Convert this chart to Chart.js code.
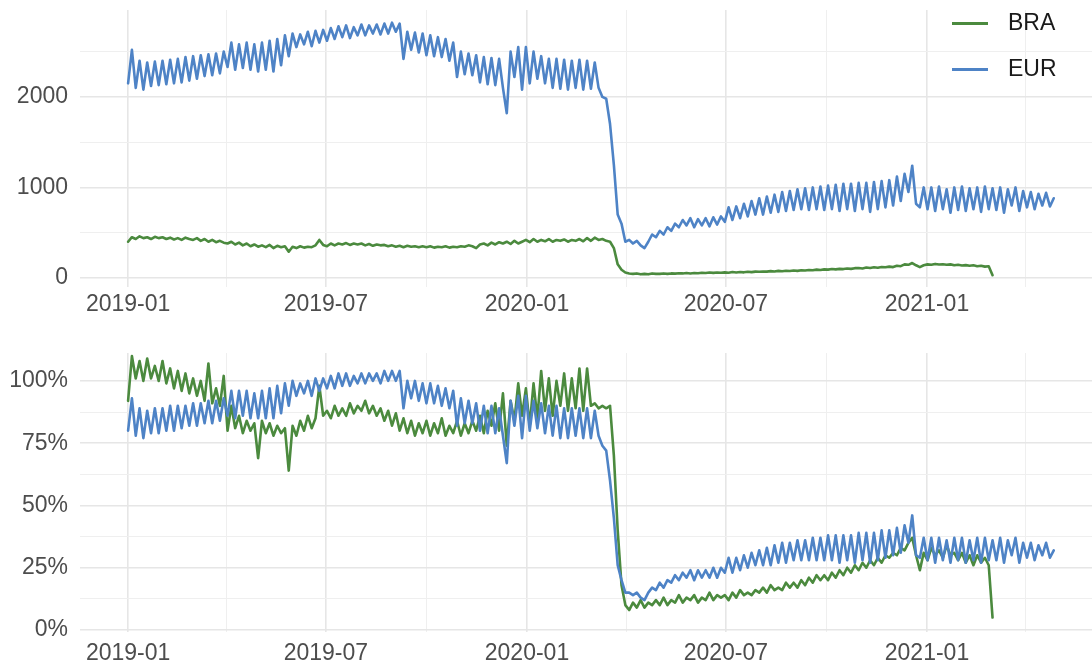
<!DOCTYPE html>
<html>
<head>
<meta charset="utf-8">
<script src="https://cdn.jsdelivr.net/npm/chart.js@4.4.1/dist/chart.umd.min.js"></script>
<style>
  body { margin: 0; background: #fff; width: 1092px; height: 668px; overflow: hidden; position: relative; font-family: "Liberation Sans", Arial, sans-serif; }
  canvas { position: absolute; left: 0; }
  #topChart { top: 0; }
  #bottomChart { top: 340px; }
  .legend { position: absolute; left: 952px; font-size: 23px; color: #1a1a1a; }
  .legend .row { position: absolute; left: 0; height: 30px; width: 140px; }
  .legend .swatch { position: absolute; left: 0; top: 14px; width: 36px; height: 2.5px; }
  .legend .lbl { position: absolute; left: 56px; top: 1px; }
</style>
</head>
<body>
<canvas id="topChart" width="1092" height="320"></canvas>
<canvas id="bottomChart" width="1092" height="328"></canvas>
<div class="legend" id="legend"></div>

<script>
// one point every 3.5 days from 2019-01-01 (alternating weekly high / low)
var DAY_STEP = 3.5;

// x-axis breaks, in days since 2019-01-01
var majorDays = [0, 181, 365, 547, 731];
var majorLabels = ['2019-01', '2019-07', '2020-01', '2020-07', '2021-01'];
var minorDays = [90, 273, 456, 639, 821];

var seriesNames = ['EUR', 'BRA'];
var seriesColors = ['#4e83c6', '#4b8a3e'];

// top panel: absolute values
var eurAbs = [
  2150, 2520, 2100, 2400, 2080, 2380, 2120, 2390, 2130,   // 2019-01
  2400, 2140, 2410, 2150, 2420, 2160, 2440, 2180,
  2450, 2200, 2460, 2230, 2470, 2240, 2480, 2260, 2500,
  2330, 2600, 2300, 2580, 2320, 2600, 2300, 2580, 2280,
  2600, 2300, 2620, 2280, 2640, 2350, 2680, 2450,
  2700, 2550, 2690, 2580, 2720, 2560, 2730, 2600, 2740,
  2620, 2760, 2640, 2780, 2660, 2790, 2650, 2770, 2680,   // 2019-07
  2800, 2680, 2790, 2700, 2800, 2690, 2810, 2700,
  2820, 2720, 2810, 2420, 2720, 2520, 2710, 2490, 2700,
  2460, 2680, 2450, 2660, 2440, 2640, 2400, 2600, 2220,
  2500, 2250, 2480, 2240, 2460, 2160, 2440, 2140,
  2430, 2130, 2420, 2100, 1820, 2500, 2220, 2550, 2080,
  2550, 2150, 2500, 2200, 2450, 2150, 2420, 2100, 2420,   // 2020-01
  2090, 2410, 2080, 2400, 2100, 2410, 2080, 2400,
  2090, 2380, 2100, 2000, 1980, 1700, 1250, 700, 600,
  400, 420, 380, 410, 360, 330, 400, 480, 450,
  520, 480, 560, 520, 600, 560, 640, 580, 660,
  560, 650, 580, 660, 570, 670, 590, 680,
  620, 780, 640, 790, 660, 820, 680, 850, 700,            // 2020-07
  880, 700, 900, 720, 920, 730, 950, 740, 960,
  750, 980, 760, 990, 750, 1000, 760, 1010,
  750, 1020, 760, 1030, 740, 1040, 760, 1040, 740,
  1050, 760, 1050, 730, 1060, 760, 1070, 780,
  1080, 800, 1120, 850, 1150, 950, 1240, 820, 780,
  1000, 760, 1000, 740, 1010, 760, 980, 720, 1000,        // 2021-01
  750, 1010, 740, 990, 760, 1000, 730, 1010,
  760, 990, 750, 1000, 720, 980, 800, 1000, 740,
  960, 780, 950, 760, 930, 800, 940, 790, 880
];

var braAbs = [
  400, 450, 430, 460, 440, 450, 430, 455, 440,            // 2019-01
  450, 430, 445, 425, 440, 420, 445, 430,
  420, 440, 410, 430, 400, 420, 395, 410, 390,
  380, 400, 370, 390, 360, 380, 350, 370, 345,
  360, 340, 365, 330, 355, 340, 350, 290,
  345, 330, 350, 335, 345, 340, 360, 420, 365,
  350, 380, 360, 380, 370, 385, 365, 380, 370,            // 2019-07
  380, 360, 375, 355, 370, 360, 365, 350,
  360, 345, 355, 340, 355, 345, 350, 340, 350,
  340, 350, 335, 345, 340, 350, 335, 345, 340,
  350, 345, 360, 350, 330, 370, 380, 360,
  390, 370, 395, 380, 400, 375, 410, 380, 400,
  420, 395, 430, 400, 420, 405, 430, 400, 420,            // 2020-01
  410, 425, 400, 420, 410, 430, 405, 440,
  410, 445, 420, 430, 410, 400, 330, 150, 90,
  60, 50, 45, 50, 40, 45, 40, 50, 45,
  45, 50, 45, 50, 48, 52, 50, 55, 50,
  55, 52, 58, 55, 60, 56, 60, 58,
  62, 58, 65, 60, 66, 62, 68, 64, 70,                     // 2020-07
  68, 72, 70, 75, 72, 78, 74, 80, 76,
  82, 78, 85, 82, 88, 85, 92, 88,
  95, 92, 98, 95, 100, 98, 105, 100, 108,
  110, 105, 115, 110, 118, 112, 120, 118,
  125, 120, 135, 130, 150, 145, 165, 140, 120,
  140, 150, 145, 155, 148, 152, 145, 150, 140,            // 2021-01
  145, 138, 142, 135, 140, 130, 135, 125,
  130, 30
];

// bottom panel: percent of 2019 level
var eurPct = [
  80, 93, 78, 89, 77, 88, 79, 89, 79,                     // 2019-01
  89, 80, 90, 80, 90, 81, 90, 82,
  91, 82, 91, 83, 92, 83, 92, 84, 93,
  86, 96, 85, 96, 86, 96, 85, 95, 85,
  96, 85, 97, 85, 98, 87, 99, 90,
  100, 94, 99, 95, 100, 94, 101, 96, 101,
  97, 102, 97, 103, 98, 103, 98, 102, 99,                 // 2019-07
  103, 99, 103, 100, 103, 99, 104, 100,
  104, 100, 104, 89, 100, 93, 100, 92, 99,
  91, 99, 91, 98, 90, 97, 89, 96, 82,
  93, 83, 92, 83, 91, 80, 90, 79,
  90, 79, 89, 78, 67, 92, 82, 94, 77,
  94, 80, 92, 81, 91, 79, 90, 78, 90,                     // 2020-01
  77, 89, 77, 89, 78, 89, 77, 89,
  77, 88, 78, 74, 72, 60, 45, 26, 20,
  15, 15, 14, 15, 13, 12, 15, 17, 16,
  19, 17, 20, 19, 22, 20, 23, 21, 24,
  20, 24, 21, 24, 21, 25, 21, 25,
  23, 29, 23, 29, 24, 30, 25, 31, 26,                     // 2020-07
  32, 26, 33, 26, 34, 27, 35, 27, 35,
  28, 36, 28, 36, 28, 37, 28, 37,
  28, 38, 28, 38, 27, 38, 28, 38, 27,
  39, 28, 39, 27, 39, 28, 40, 29,
  40, 30, 41, 31, 42, 35, 46, 30, 29,
  37, 28, 37, 27, 37, 28, 36, 27, 37,                     // 2021-01
  28, 37, 27, 36, 28, 37, 27, 37,
  28, 36, 28, 37, 27, 36, 30, 37, 27,
  35, 29, 35, 28, 34, 30, 35, 29, 32
];

var braPct = [
  92, 110, 101, 108, 100, 109, 101, 106, 100,             // 2019-01
  108, 99, 105, 97, 104, 96, 103, 95,
  101, 94, 100, 92, 107, 91, 97, 90, 102,
  80, 90, 81, 86, 79, 84, 80, 83, 69,
  84, 79, 83, 78, 82, 79, 81, 64,
  82, 78, 84, 80, 86, 81, 85, 98, 86,
  88, 85, 90, 86, 89, 86, 91, 87, 90,                     // 2019-07
  88, 92, 87, 90, 86, 89, 84, 88,
  82, 87, 80, 85, 79, 84, 78, 83, 79,
  84, 78, 83, 79, 85, 78, 82, 79, 84,
  78, 83, 79, 84, 80, 86, 79, 88,
  82, 91, 80, 95, 74, 92, 84, 99, 86,
  97, 82, 99, 85, 104, 88, 101, 86, 100,                  // 2020-01
  90, 103, 88, 101, 89, 105, 88, 105,
  90, 91, 89, 90, 89, 90, 70, 40, 18,
  10, 8, 11, 9, 12, 9, 11, 10, 12,
  10, 13, 10, 12, 11, 14, 11, 13, 12,
  14, 11, 13, 12, 15, 12, 14, 13,
  14, 12, 15, 13, 16, 14, 15, 14, 16,                     // 2020-07
  15, 17, 15, 18, 16, 17, 16, 19, 17,
  19, 17, 20, 18, 21, 19, 22, 20,
  22, 20, 23, 21, 24, 22, 25, 23, 26,
  24, 27, 25, 28, 26, 29, 27, 30,
  29, 31, 30, 33, 32, 35, 37, 30, 24,
  31, 28, 33, 30, 32, 29, 34, 30, 31,                     // 2021-01
  28, 31, 27, 30, 26, 30, 27, 29,
  26, 5
];

var topYTicks = [0, 500, 1000, 1500, 2000, 2500];
var bottomYTicks = [0, 12.5, 25, 37.5, 50, 62.5, 75, 87.5, 100];

var GRID_MAJOR = '#e6e6e6';
var GRID_MINOR = '#efefef';
var TICK_COLOR = '#4d4d4d';
var FONT = { family: '"Liberation Sans", Arial, sans-serif', size: 23 };

function toPoints(values) {
  return values.map(function (v, i) { return { x: i * DAY_STEP, y: v }; });
}

function makeChart(id, eur, bra, yMin, yMax, yTicks, isMajorY, yLabel, topPad, xHeight, xPad) {
  var ctx = document.getElementById(id).getContext('2d');
  return new Chart(ctx, {
    type: 'line',
    data: {
      datasets: [
        { label: seriesNames[0], data: toPoints(eur), borderColor: seriesColors[0] },
        { label: seriesNames[1], data: toPoints(bra), borderColor: seriesColors[1] }
      ]
    },
    options: {
      responsive: false,
      animation: false,
      layout: { padding: { top: topPad, left: 0, right: 0, bottom: 0 } },
      elements: {
        line: { borderWidth: 2.6, tension: 0, borderJoinStyle: 'round', borderCapStyle: 'round' },
        point: { radius: 0 }
      },
      plugins: { legend: { display: false }, tooltip: { enabled: false } },
      scales: {
        x: {
          type: 'linear',
          min: -44,
          max: 882,
          afterBuildTicks: function (s) {
            s.ticks = majorDays.concat(minorDays).sort(function (a, b) { return a - b; })
              .map(function (v) { return { value: v }; });
          },
          afterFit: function (s) {
            s.height = xHeight;
            s.paddingLeft = 0;
            s.paddingRight = 0;
          },
          border: { display: false },
          grid: {
            drawTicks: false,
            color: function (c) { return majorDays.indexOf(c.tick.value) >= 0 ? GRID_MAJOR : GRID_MINOR; },
            lineWidth: function (c) { return majorDays.indexOf(c.tick.value) >= 0 ? 1.6 : 1; }
          },
          ticks: {
            autoSkip: false,
            maxRotation: 0,
            padding: xPad,
            color: TICK_COLOR,
            font: FONT,
            callback: function (v) {
              var k = majorDays.indexOf(v);
              return k >= 0 ? majorLabels[k] : '';
            }
          }
        },
        y: {
          min: yMin,
          max: yMax,
          afterBuildTicks: function (s) {
            s.ticks = yTicks.map(function (v) { return { value: v }; });
          },
          afterFit: function (s) {
            s.width = 80;
            s.paddingTop = 0;
            s.paddingBottom = 0;
          },
          border: { display: false },
          grid: {
            drawTicks: false,
            color: function (c) { return isMajorY(c.tick.value) ? GRID_MAJOR : GRID_MINOR; },
            lineWidth: function (c) { return isMajorY(c.tick.value) ? 1.6 : 1; }
          },
          ticks: {
            padding: 12,
            color: TICK_COLOR,
            font: FONT,
            callback: function (v) { return isMajorY(v) ? yLabel(v) : ''; }
          }
        }
      }
    }
  });
}

makeChart('topChart', eurAbs, braAbs, -100, 2960, topYTicks,
  function (v) { return v % 1000 === 0; },
  function (v) { return String(v); },
  10, 33, 4);

makeChart('bottomChart', eurPct, braPct, -0.8, 111.2, bottomYTicks,
  function (v) { return v % 25 === 0; },
  function (v) { return v + '%'; },
  13, 36, 8);

// legend, top right inside the upper panel (BRA first, as in the reference)
var legend = document.getElementById('legend');
[1, 0].forEach(function (k, row) {
  var r = document.createElement('div');
  r.className = 'row';
  r.style.top = (8 + row * 46) + 'px';
  r.innerHTML = '<div class="swatch" style="background:' + seriesColors[k] + '"></div>' +
    '<div class="lbl">' + seriesNames[k] + '</div>';
  legend.appendChild(r);
});
</script>
</body>
</html>
